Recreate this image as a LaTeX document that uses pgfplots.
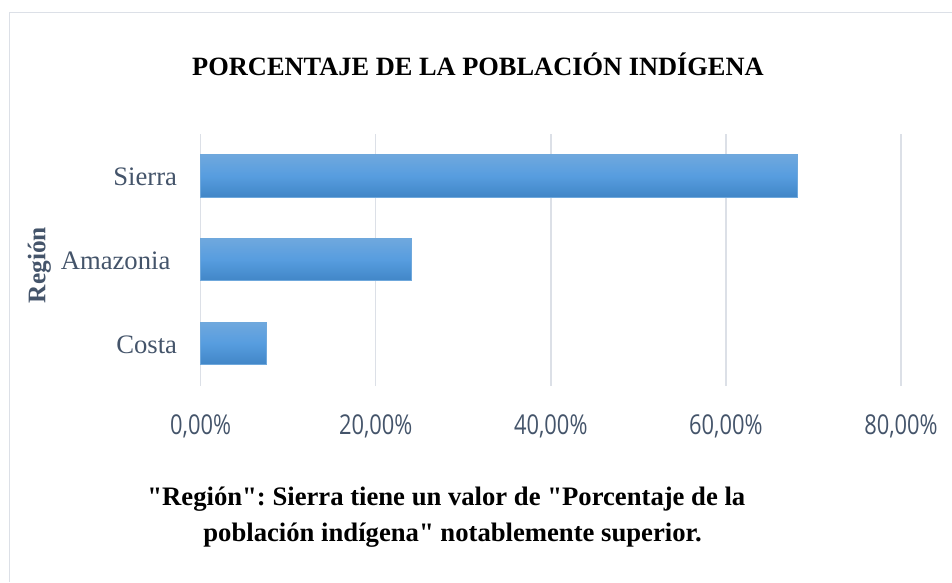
\documentclass[border=0pt]{standalone}
\usepackage{fontspec}
\usepackage{graphicx}
\setmainfont{Liberation Serif}[Ligatures=TeXOff]
\newfontfamily\tickfont{Open Sans}
\usepackage{pgfplots}
\pgfplotsset{compat=1.18}
\definecolor{txt}{HTML}{44546A}
\definecolor{gridc}{HTML}{DCE0E7}
\definecolor{bartop}{HTML}{6FA8DE}
\definecolor{barmid}{HTML}{579DDF}
\definecolor{barbot}{HTML}{4186C7}
\definecolor{baredge}{HTML}{6FA8DC}
\newcommand{\tl}[1]{\scalebox{0.8}[1]{#1}}
\frenchspacing
\begin{document}
\begin{tikzpicture}
\useasboundingbox (0,0) rectangle (714pt,-436.5pt);
\draw[gridc, line width=1.1pt] (7.1pt,-436.5pt) -- (7.1pt,-9.2pt) -- (714pt,-9.2pt);
\node[anchor=base, font=\fontsize{19.8}{24}\selectfont\bfseries] at (358.5pt,-56.25pt) {PORCENTAJE DE LA POBLACIÓN INDÍGENA};
\begin{axis}[at={(150.5pt,-289.5pt)}, anchor=south west, scale only axis,
  width=525.2pt, height=189pt,
  xmin=0, xmax=80, ymin=-0.51, ymax=2.5,
  xtick={0,20,40,60,80},
  xticklabels={{\tl{0,00\%}},{\tl{20,00\%}},{\tl{40,00\%}},{\tl{60,00\%}},{\tl{80,00\%}}},
  ytick={0,1,2}, yticklabels={Costa,{Amazonia\kern5pt},Sierra},
  xmajorgrids, major grid style={gridc, line width=1.1pt},
  axis line style={draw=none}, major tick length=0pt,
  xticklabel style={anchor=base, yshift=-36pt, inner sep=0pt, font=\tickfont\fontsize{20.5}{24}\selectfont, text=txt},
  yticklabel style={anchor=base east, inner sep=0pt, xshift=-17.5pt, yshift=-7.5pt, font=\fontsize{20}{24}\selectfont, text=txt},
  xbar, bar shift=0pt, bar width=0.506,
  clip=false]
\addplot[draw=baredge, line width=0.5pt, top color=bartop, bottom color=barbot, middle color=barmid] coordinates {(7.54,0)};
\addplot[draw=baredge, line width=0.5pt, top color=bartop, bottom color=barbot, middle color=barmid] coordinates {(24.1,1)};
\addplot[draw=baredge, line width=0.5pt, top color=bartop, bottom color=barbot, middle color=barmid] coordinates {(68.2,2)};
\end{axis}
\node[rotate=90, anchor=base, font=\fontsize{19}{23}\selectfont\bfseries, text=txt] at (34.1pt,-198.75pt) {Región};
\node[anchor=base west, font=\fontsize{20}{24}\selectfont\bfseries] at (107pt,-378.75pt) {"Región": Sierra tiene un valor de "Porcentaje de la};
\node[anchor=base west, font=\fontsize{20}{24}\selectfont\bfseries] at (149pt,-406.3pt) {población indígena" notablemente superior.};
\end{tikzpicture}
\end{document}
